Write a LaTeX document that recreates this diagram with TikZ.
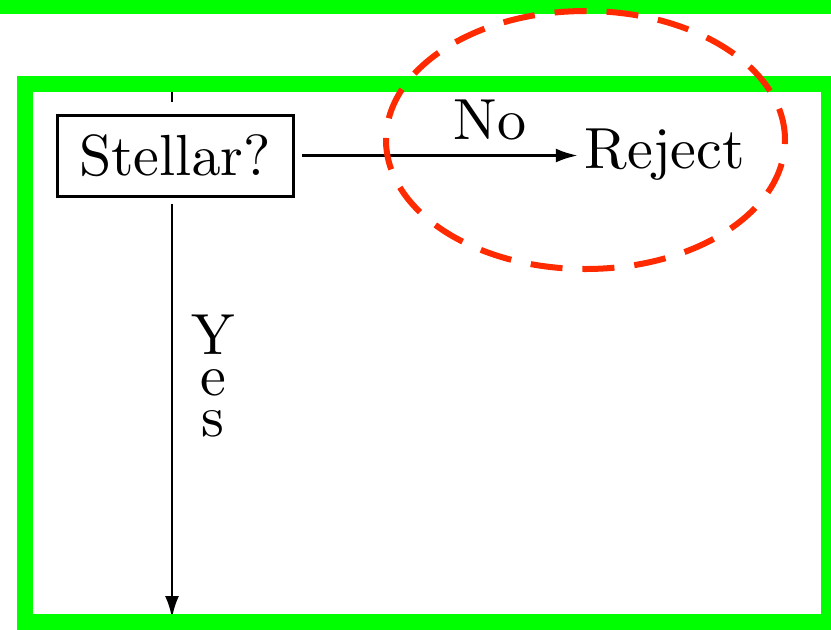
\documentclass[tikz,border=0pt]{standalone}
\usepackage{tikz}
\usetikzlibrary{arrows.meta,positioning}
\definecolor{framegreen}{RGB}{0,255,0}
\definecolor{markred}{RGB}{255,42,0}
\font\bigrm=cmr10 at 29pt
\begin{document}
\begin{tikzpicture}[x=0.5pt,y=-0.5pt,>={Latex[length=11pt,width=7pt]},
  big/.style={font=\bigrm},
  flow/.style={line width=1.4pt},
  box/.style={big,draw,line width=1.5pt,minimum width=118pt,
              minimum height=40.5pt,inner sep=0pt}]
  \useasboundingbox (0,0) rectangle (831,629);
  \node[box] (stellar) at (175,155.5) {Stellar?};
  \node[big,anchor=base] (reject) at (665,168) {Reject};
  \coordinate (from) at (172,84);
  \coordinate (down) at (172,618);
  \draw[flow,shorten >=6pt] (from) -- (from |- stellar.north);
  \draw[->,flow,shorten <=3.75pt] (stellar.east) -- (stellar.east -| reject.west)
    node[big,pos=0.69,above=4pt] (no) {No};
  \draw[->,flow,shorten <=3pt] (stellar.south -| from) -- (down)
    node[pos=0.423,right=7pt,inner sep=2pt,align=center,
         font={\bigrm\baselineskip=20.5pt}] (yes) {Y\\e\\s};
  % frame and mark
  \fill[framegreen] (0,0) rectangle (831,14);
  \draw[framegreen,line width=8pt] (25,84) rectangle (829,622);
  \draw[markred,line width=3pt,dash pattern=on 16pt off 10pt]
    (585.5,140) ellipse [x radius=99.75pt,y radius=64.5pt];
\end{tikzpicture}
\end{document}
